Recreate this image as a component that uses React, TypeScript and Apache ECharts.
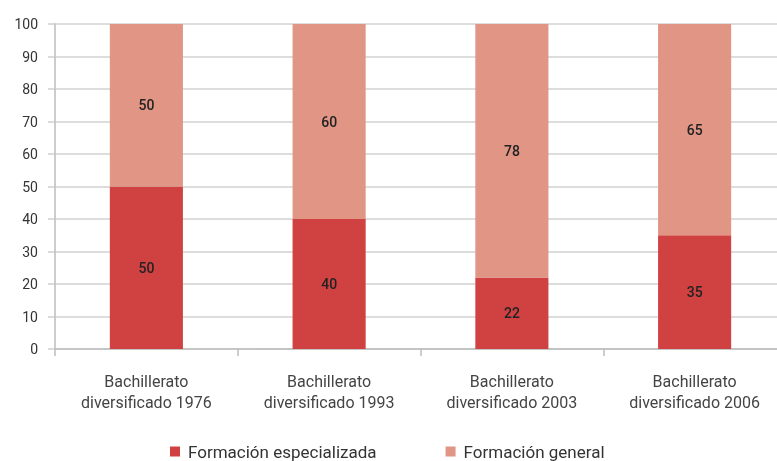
import React, { useEffect, useRef } from "react";
import * as echarts from "echarts";

const categories = [
  "Bachillerato\ndiversificado 1976",
  "Bachillerato\ndiversificado 1993",
  "Bachillerato\ndiversificado 2003",
  "Bachillerato\ndiversificado 2006",
];
const especializada = [50, 40, 22, 35];
const general = [50, 60, 78, 65];
const seriesNames = ["Formación especializada", "Formación general"];

export default function App() {
  const ref = useRef<HTMLDivElement>(null);
  useEffect(() => {
    if (!ref.current) return;
    const chart = echarts.init(ref.current, undefined, { renderer: "svg" });
    const font = "Roboto, 'DejaVu Sans', sans-serif";
    chart.setOption({
      animation: false,
      textStyle: { fontFamily: font },
      grid: { left: 55, top: 24, width: 731, height: 325, containLabel: false },
      legend: {
        left: 165,
        top: 438,
        itemWidth: 10,
        itemHeight: 10,
        itemGap: 69,
        icon: "rect",
        textStyle: { fontSize: 17, color: "#333", fontFamily: font, padding: [0, 0, 0, 3] },
        data: seriesNames,
      },
      xAxis: {
        type: "category",
        data: categories,
        axisLine: { show: true, lineStyle: { color: "#bdbdbd", width: 1.5 } },
        axisTick: { show: true, length: 7, lineStyle: { color: "#bdbdbd", width: 1.5 } },
        axisLabel: { fontSize: 16, color: "#444", lineHeight: 21, margin: 22, interval: 0, fontFamily: font },
      },
      yAxis: {
        type: "value",
        min: 0,
        max: 100,
        interval: 10,
        axisLine: { show: true, lineStyle: { color: "#bdbdbd", width: 1.5 } },
        axisTick: { show: true, length: 7, lineStyle: { color: "#cfcfcf", width: 1.5 } },
        splitLine: { show: true, lineStyle: { color: "#d2d2d2", width: 1.5 } },
        axisLabel: { fontSize: 14, color: "#333", margin: 17, fontFamily: font },
      },
      series: [
        {
          name: seriesNames[0],
          type: "bar",
          stack: "total",
          barWidth: "40%",
          data: especializada,
          itemStyle: { color: "#d04241" },
          label: { show: true, position: "inside", color: "#222", fontSize: 14, fontWeight: 500 },
        },
        {
          name: seriesNames[1],
          type: "bar",
          stack: "total",
          barWidth: "40%",
          data: general,
          itemStyle: { color: "#e09585" },
          label: { show: true, position: "inside", color: "#222", fontSize: 14, fontWeight: 500 },
        },
      ],
    });
    return () => chart.dispose();
  }, []);
  return (
    <div style={{ position: "fixed", left: 0, top: 0, width: 777, height: 461, overflow: "hidden" }}>
      <div ref={ref} style={{ width: 800, height: 461 }} />
    </div>
  );
}
